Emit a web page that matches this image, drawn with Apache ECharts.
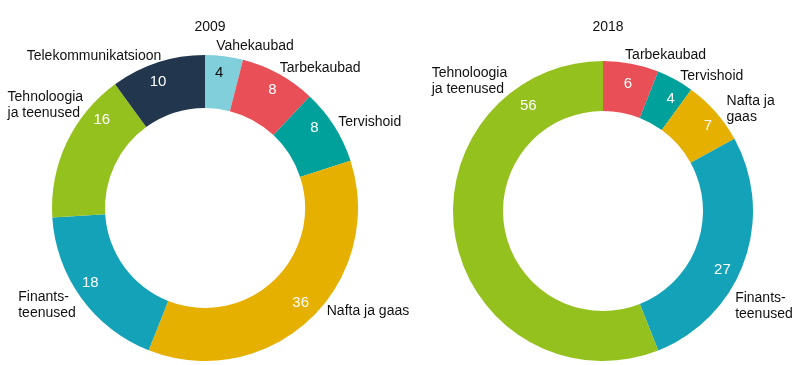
<!DOCTYPE html>
<html>
<head>
<meta charset="utf-8">
<script src="https://cdn.jsdelivr.net/npm/echarts@6/dist/echarts.min.js"></script>
<style>
html,body{margin:0;padding:0;background:#fff;}
#chart{width:800px;height:365px;}
</style>
</head>
<body>
<div id="chart"></div>
<script>
// ---- data ----
const titles = ['2009', '2018'];
const names2009 = ['Vahekaubad', 'Tarbekaubad', 'Tervishoid', 'Nafta ja gaas', 'Finants-\nteenused', 'Tehnoloogia\nja teenused', 'Telekommunikatsioon'];
const values2009 = [4, 8, 8, 36, 18, 16, 10];
const names2018 = ['Tarbekaubad', 'Tervishoid', 'Nafta ja\ngaas', 'Finants-\nteenused', 'Tehnoloogia\nja teenused'];
const values2018 = [6, 4, 7, 27, 56];

// ---- styles ----
const sectorColor = {
  'Vahekaubad': '#80CFDB',
  'Tarbekaubad': '#E84F57',
  'Tervishoid': '#00A19A',
  'Nafta ja gaas': '#E6B000',
  'Finants-teenused': '#14A2B8',
  'Tehnoloogia ja teenused': '#95C11F',
  'Telekommunikatsioon': '#22364D'
};
const darkValueText = { 'Vahekaubad': true };
const key = n => n.replace('-\n', '-').replace(/\n/g, ' ');

// label nudges relative to the library's own label anchors
const nameNudge2009 = [[-8, -10], [1, -6], [4, -4], [17, -8], [-63, 7], [-59, -38], [-131, -6]];
const nameNudge2018 = [[-6, -9], [5, -3], [11, -3], [-9, 44], [-24, -158]];
const valueNudge2009 = [[-2, -7], [5, -5], [0, -11], [7, 0], [-10, -1], [14, -33], [-7, -3]];
const valueNudge2018 = [[1, -1], [6, 0], [9, 0], [-1, 16], [51, -129]];

const labelFont = '"Liberation Sans", Arial, sans-serif';
const valueFont = '"Liberation Sans Narrow", "Arial Narrow", "Liberation Sans", sans-serif';

function valueSeries(names, values, center, radius, nudge) {
  return {
    type: 'pie',
    center: center,
    radius: radius,
    startAngle: 90,
    clockwise: true,
    avoidLabelOverlap: false,
    silent: true,
    label: {
      show: true,
      position: 'inside',
      fontFamily: valueFont,
      fontSize: 15,
      formatter: p => String(p.value)
    },
    labelLine: { show: false },
    labelLayout: function (params) {
      const o = nudge[params.dataIndex];
      return { dx: o[0], dy: o[1] };
    },
    data: names.map((n, i) => ({
      name: n,
      value: values[i],
      itemStyle: { color: sectorColor[key(n)] },
      label: { color: darkValueText[key(n)] ? '#111' : '#fff' }
    }))
  };
}

function nameSeries(names, values, center, radius, nudge) {
  return {
    type: 'pie',
    center: center,
    radius: radius,
    startAngle: 90,
    clockwise: true,
    avoidLabelOverlap: false,
    silent: true,
    z: 5,
    itemStyle: { color: 'rgba(0,0,0,0)' },
    label: {
      show: true,
      position: 'outside',
      color: '#111',
      fontFamily: labelFont,
      fontSize: 14,
      lineHeight: 16,
      distanceToLabelLine: 0,
      formatter: p => p.name
    },
    labelLine: { show: false, length: 0, length2: 0 },
    labelLayout: function (params) {
      const o = nudge[params.dataIndex];
      return { align: 'left', dx: o[0], dy: o[1] };
    },
    data: names.map((n, i) => ({ name: n, value: values[i] }))
  };
}

const chart = echarts.init(document.getElementById('chart'), null, { renderer: 'canvas' });
const c1 = [205, 208], r1 = [100, 153];
const c2 = [603, 211], r2 = [100, 150];
const titleStyle = { fontFamily: labelFont, fontSize: 14, fontWeight: 'normal', color: '#111' };
chart.setOption({
  animation: false,
  backgroundColor: '#fff',
  title: [
    { text: titles[0], left: 205, top: 15, textAlign: 'center', textStyle: titleStyle },
    { text: titles[1], left: 603, top: 15, textAlign: 'center', textStyle: titleStyle }
  ],
  series: [
    valueSeries(names2009, values2009, c1, r1, valueNudge2009),
    nameSeries(names2009, values2009, c1, r1, nameNudge2009),
    valueSeries(names2018, values2018, c2, r2, valueNudge2018),
    nameSeries(names2018, values2018, c2, r2, nameNudge2018)
  ]
});
</script>
</body>
</html>
